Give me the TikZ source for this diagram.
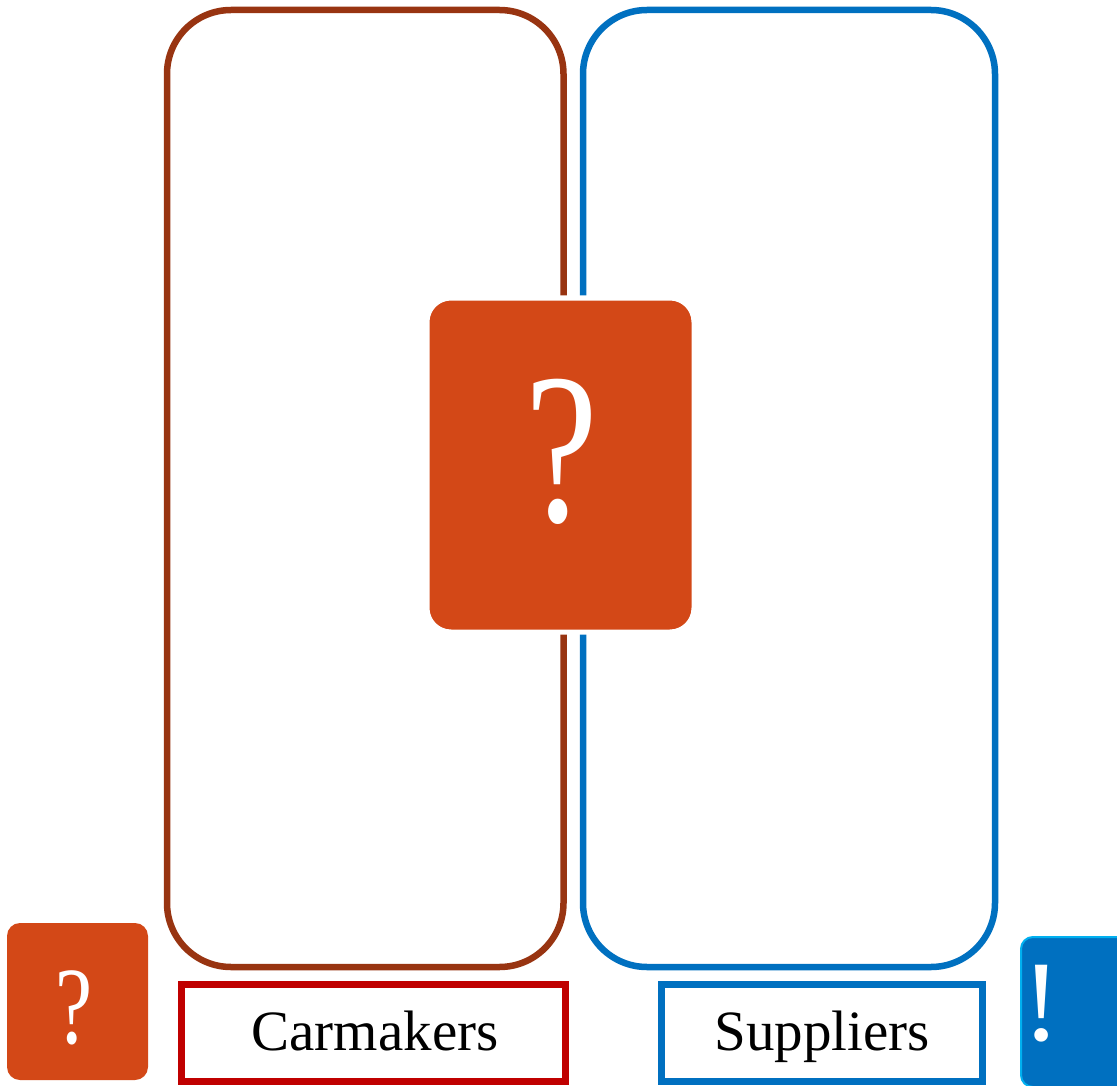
\documentclass[tikz,border=0pt]{standalone}
\usepackage{fontspec}
\setmainfont{Liberation Serif}
\definecolor{brownc}{HTML}{983411}
\definecolor{bluec}{HTML}{0070C0}
\definecolor{orangec}{HTML}{D34817}
\definecolor{redc}{HTML}{C00000}
\definecolor{lightbluec}{HTML}{00B0F0}
\begin{document}
\begin{tikzpicture}[x=1pt,y=-1pt,
  frame/.style={draw, line width=6.5pt, rounded corners=64pt, inner sep=0pt, fill=none},
  labelbox/.style={draw, line width=7pt, inner sep=0pt, fill=white},
  labeltext/.style={inner sep=0pt, anchor=base, font=\fontsize{57}{60}\selectfont},
  sq/.style={inner sep=0pt, text=white},
  glyphmark/.style={text=white, inner sep=0pt, xscale=0.76}]
\useasboundingbox (0,0) rectangle (1117,1086);
\clip (0,0) rectangle (1117,1086);
\fill[white] (0,0) rectangle (1117,1086);
% frames
\node[frame, draw=brownc, minimum width=396.5pt, minimum height=957pt] (carframe) at (365.25,488.5) {};
\node[frame, draw=bluec, minimum width=412pt, minimum height=957pt] (supframe) at (789,488.5) {};
% central question box
\node[sq, fill=orangec, draw=white, line width=5pt, rounded corners=24pt, minimum width=267pt, minimum height=334pt] (q) at (560.5,465) {};
\node[glyphmark, font=\fontsize{215}{215}\selectfont] (qmark) at (562,452) {?};
% small question box
\node[sq, fill=orangec, rounded corners=13pt, minimum width=141pt, minimum height=157pt] (sq1) at (77.5,1001.5) {};
\node[glyphmark, font=\fontsize{110}{110}\selectfont] (qmark2) at (74,1008) {?};
% blue exclamation box
\node[sq, fill=bluec, draw=lightbluec, line width=2pt, rounded corners=12pt, minimum width=130pt, minimum height=150pt, anchor=north west] (ex) at (1020,936) {};
\node[text=white, inner sep=0pt, font=\fontsize{115}{115}\selectfont] (exmark) at (1042,1004) {!};
% labels
\node[labelbox, draw=redc, minimum width=384pt, minimum height=97pt] (carlab) at (373.5,1033) {};
\node[labeltext] (cartext) at (375,1050) {Carmakers};
\node[labelbox, draw=bluec, minimum width=321pt, minimum height=97pt] (suplab) at (822,1033) {};
\node[labeltext] (suptext) at (822,1050) {Suppliers};
\end{tikzpicture}
\end{document}
